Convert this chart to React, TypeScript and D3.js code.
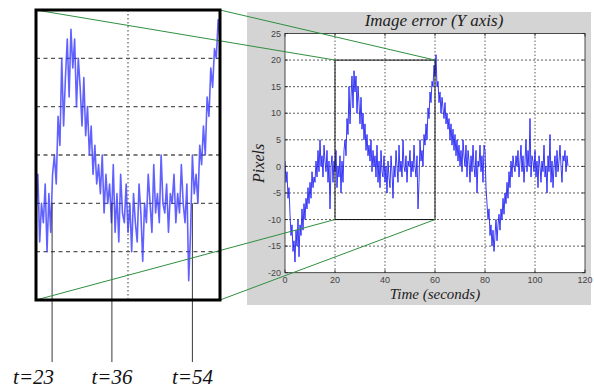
import React from "react";
import * as d3 from "d3";

// Sampling step (seconds) of the error series
const DT = 0.4;
// Image error (Y axis), pixels at 0.4 s steps
const errorValues: number[] = [
  1, -3, -1, -6, -4, -9, -13, -11, -16, -14,
  -18, -12, -15, -10, -17, -11, -13, -8, -12, -7,
  -10, -6, -8, -4, -7, -3, -6, -1, -4, -2,
  -3, 1, -2, 3, -1, 5, 0, 2, -2, 4,
  1, -1, 3, -3, 1, -8, 0, 2, -3, 1,
  -1, 3, -4, 0, -2, 2, -5, 1, -3, 3,
  5, 2, 9, 6, 15, 8, 13, 17, 11, 18,
  14, 17, 10, 15, 12, 8, 13, 7, 10, 5,
  8, 3, 6, 2, 4, 1, 5, -1, 3, 0,
  2, -2, 4, -3, 1, -4, 3, -1, -2, 2,
  -3, 0, -5, 1, -2, -4, 2, -1, -6, 0,
  -2, 3, 0, -3, 4, -1, 1, -2, 5, 0,
  -1, 2, -3, 1, 0, 3, -2, 1, -1, 4,
  0, -2, 2, -8, -3, 5, 1, 3, 0, 6,
  4, 8, 5, 11, 9, 14, 12, 16, 15, 19,
  17, 21, 15, 16, 12, 14, 10, 13, 11, 9,
  12, 8, 10, 7, 9, 5, 8, 4, 7, 3,
  6, 2, 5, 1, 4, 0, 3, -1, 5, 2,
  0, 4, -2, 3, 1, -3, 2, -1, 4, 0,
  -2, 3, -5, 1, 0, 4, -1, 2, -3, 4,
  3, -4, -7, -10, -8, -13, -11, -15, -12, -16,
  -13, -10, -14, -11, -9, -12, -8, -10, -6, -9,
  -5, -7, -3, -6, -1, -4, 1, -2, 2, 0,
  -1, 2, 0, 3, -2, 1, 4, -1, 2, -3,
  1, 5, -1, 3, 0, 9, -2, 2, 1, -1,
  3, -2, 1, -4, 2, 0, -3, 1, -1, 4,
  -2, 0, -5, 2, -1, 6, -3, 1, -4, 0,
  2, -2, 3, -1, 1, 4, 0, -3, 2, 1,
  3, -1, 2, 0,
];

const xTicks = [0, 20, 40, 60, 80, 100, 120];
const yTicks = [-20, -15, -10, -5, 0, 5, 10, 15, 20, 25];
const zoomXDomain = [20, 60];
const zoomYDomain = [-10, 20];
const insetXGrid = [40];
const insetYGrid = [-5, 0, 5, 10, 15];
const markerLabels = ["t=23", "t=36", "t=54"];
const markerTimes = [23.5, 36.5, 54];

const title = "Image error (Y axis)";
const xLabel = "Time (seconds)";
const yLabel = "Pixels";

const data = errorValues.map((v, i) => ({ t: i * DT, v }));

export default function App() {
  const W = 594, H = 390;
  const serif = "'Liberation Serif', 'DejaVu Serif', serif";
  const sans = "'Liberation Sans', Arial, sans-serif";

  // main plot
  const x = d3.scaleLinear().domain([0, 120]).range([285, 585]);
  const y = d3.scaleLinear().domain([-20, 25]).range([272.7, 33.5]);
  const line = d3.line<{ t: number; v: number }>().x(d => x(d.t)).y(d => y(d.v));

  // inset
  const ix = d3.scaleLinear().domain(zoomXDomain).range([36, 220]);
  const iy = d3.scaleLinear().domain(zoomYDomain).range([300, 10]);
  const iline = d3.line<{ t: number; v: number }>().x(d => ix(d.t)).y(d => iy(d.v));
  const insetData = data.filter(d => d.t >= zoomXDomain[0] - 1 && d.t <= zoomXDomain[1] + 1);

  const green = "#2f8f3f";
  const corners = [
    [ix(zoomXDomain[0]), iy(zoomYDomain[1]), x(zoomXDomain[0]), y(zoomYDomain[1])],
    [ix(zoomXDomain[1]), iy(zoomYDomain[1]), x(zoomXDomain[1]), y(zoomYDomain[1])],
    [ix(zoomXDomain[0]), iy(zoomYDomain[0]), x(zoomXDomain[0]), y(zoomYDomain[0])],
    [ix(zoomXDomain[1]), iy(zoomYDomain[0]), x(zoomXDomain[1]), y(zoomYDomain[0])],
  ];

  return (
    <svg width={W} height={H} style={{ position: "absolute", left: 0, top: 0, background: "#fff" }}>
      <defs>
        <clipPath id="mainClip">
          <rect x={285} y={33.5} width={300} height={239.2} />
        </clipPath>
        <clipPath id="insetClip">
          <rect x={36} y={10} width={184} height={290} />
        </clipPath>
      </defs>

      {/* gray figure panel */}
      <rect x={247} y={12} width={344} height={293} fill="#d4d4d4" />
      <rect x={285} y={33.5} width={300} height={239.2} fill="#fff" />

      {/* grid */}
      {xTicks.slice(1, -1).map(t => (
        <line key={"gx" + t} x1={x(t)} x2={x(t)} y1={33.5} y2={272.7} stroke="#333" strokeWidth={0.8} strokeDasharray="1.5,2" />
      ))}
      {yTicks.slice(1, -1).map(t => (
        <line key={"gy" + t} x1={285} x2={585} y1={y(t)} y2={y(t)} stroke="#333" strokeWidth={0.8} strokeDasharray="2,2" />
      ))}

      {/* data */}
      <path d={line(data) || ""} fill="none" stroke="#1a1af5" strokeWidth={1} strokeOpacity={0.85} clipPath="url(#mainClip)" />

      {/* axes frame + ticks */}
      <rect x={285} y={33.5} width={300} height={239.2} fill="none" stroke="#222" strokeWidth={0.8} />
      {xTicks.map(t => (
        <g key={"xt" + t}>
          <line x1={x(t)} x2={x(t)} y1={272.7} y2={269.7} stroke="#222" strokeWidth={0.8} />
          <line x1={x(t)} x2={x(t)} y1={33.5} y2={36.5} stroke="#222" strokeWidth={0.8} />
          <text x={x(t)} y={282.5} fontSize={9} fontFamily={sans} fill="#444" textAnchor="middle">{t}</text>
        </g>
      ))}
      {yTicks.map(t => (
        <g key={"yt" + t}>
          <line x1={285} x2={288} y1={y(t)} y2={y(t)} stroke="#222" strokeWidth={0.8} />
          <line x1={585} x2={582} y1={y(t)} y2={y(t)} stroke="#222" strokeWidth={0.8} />
          <text x={281} y={y(t) + 3.2} fontSize={9} fontFamily={sans} fill="#444" textAnchor="end">{t}</text>
        </g>
      ))}

      {/* zoom rectangle on main plot */}
      <rect x={x(zoomXDomain[0])} y={y(zoomYDomain[1])} width={x(zoomXDomain[1]) - x(zoomXDomain[0])}
        height={y(zoomYDomain[0]) - y(zoomYDomain[1])} fill="none" stroke="#111" strokeWidth={1} />

      {/* labels */}
      <text x={434} y={26} fontSize={17} fontStyle="italic" fontFamily={serif} fill="#222" textAnchor="middle">{title}</text>
      <text x={435} y={299} fontSize={15} fontStyle="italic" fontFamily={serif} fill="#222" textAnchor="middle">{xLabel}</text>
      <text transform={`translate(264,${y(0) - 3}) rotate(-90)`} fontSize={16} fontStyle="italic" fontFamily={serif} fill="#222" textAnchor="middle">{yLabel}</text>

      {/* inset */}
      <rect x={36} y={10} width={184} height={290} fill="#fff" />
      {insetYGrid.map(t => (
        <line key={"iy" + t} x1={36} x2={220} y1={iy(t)} y2={iy(t)} stroke="#555" strokeWidth={1.3} strokeDasharray="4,3.5" />
      ))}
      {insetXGrid.map(t => (
        <line key={"ix" + t} x1={ix(t)} x2={ix(t)} y1={10} y2={300} stroke="#666" strokeWidth={1.3} strokeDasharray="1.5,2.5" />
      ))}
      <path d={iline(insetData) || ""} fill="none" stroke="#3a3aff" strokeWidth={1.6} strokeOpacity={0.8} strokeLinejoin="round" clipPath="url(#insetClip)" />

      {/* marker lines */}
      {markerTimes.map((t, i) => (
        <g key={"m" + i}>
          <line x1={ix(t)} x2={ix(t)} y1={iy(0)} y2={362} stroke="#222" strokeWidth={0.9} />
          <text x={i === 0 ? ix(t) + 2 : ix(t)} y={384} fontSize={21} fontStyle="italic" fontFamily={serif} fill="#111"
            textAnchor={i === 0 ? "end" : "middle"}>{markerLabels[i]}</text>
        </g>
      ))}

      {/* green connector lines */}
      {corners.map((c, i) => (
        <line key={"c" + i} x1={c[0]} y1={c[1]} x2={c[2]} y2={c[3]} stroke={green} strokeWidth={1} />
      ))}

      <rect x={36} y={10} width={184} height={290} fill="none" stroke="#000" strokeWidth={3} />
    </svg>
  );
}
